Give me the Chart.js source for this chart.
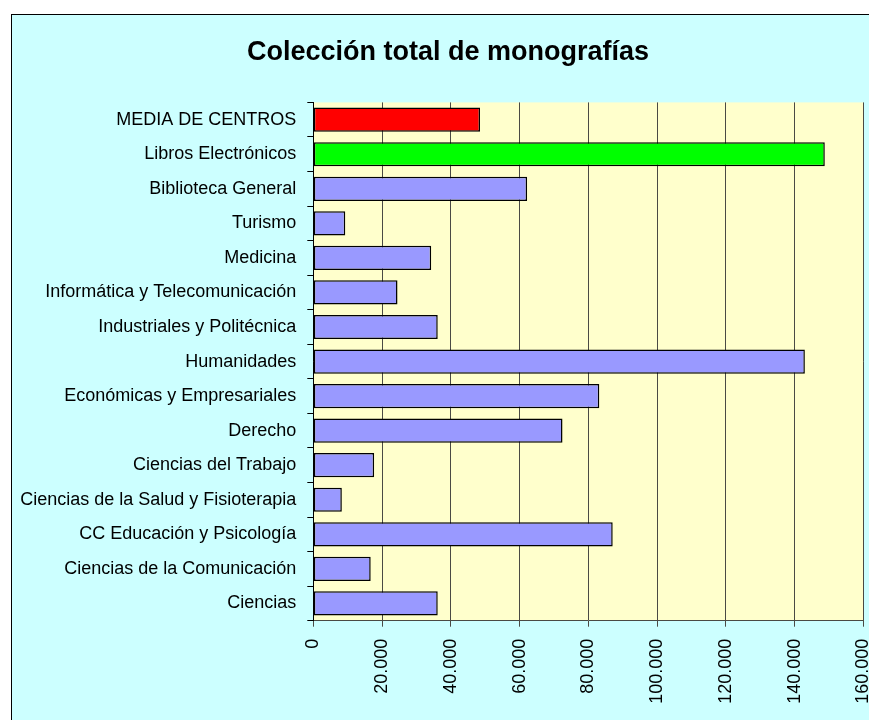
<!DOCTYPE html>
<html>
<head>
<meta charset="utf-8">
<script src="https://cdn.jsdelivr.net/npm/chart.js@4/dist/chart.umd.min.js"></script>
<style>
  html, body { margin: 0; padding: 0; background: #fff; overflow: hidden; }
  #wrap { width: 869px; height: 720px; overflow: hidden; }
</style>
</head>
<body>
<div id="wrap"><canvas id="chart" width="896" height="720"></canvas></div>
<script>
// DATA
const centros = [
  "MEDIA DE CENTROS",
  "Libros Electrónicos",
  "Biblioteca General",
  "Turismo",
  "Medicina",
  "Informática y Telecomunicación",
  "Industriales y Politécnica",
  "Humanidades",
  "Económicas y Empresariales",
  "Derecho",
  "Ciencias del Trabajo",
  "Ciencias de la Salud y Fisioterapia",
  "CC Educación y Psicología",
  "Ciencias de la Comunicación",
  "Ciencias"
];
const monografias = [48500, 148800, 62200, 9300, 34300, 24500, 36200, 143000, 83200, 72500, 17700, 8300, 87100, 16700, 36200];
const barColors = ["#FF0000", "#00FF00", "#9999FF", "#9999FF", "#9999FF", "#9999FF", "#9999FF", "#9999FF", "#9999FF", "#9999FF", "#9999FF", "#9999FF", "#9999FF", "#9999FF", "#9999FF"];
const xMax = 160000;
const xStep = 20000;

const FONT = "'Liberation Sans', Arial, sans-serif";

// miles con punto
function fmt(v) {
  return String(v).replace(/\B(?=(\d{3})+(?!\d))/g, ".");
}

// fondo cian, marco negro y zona de trazado amarilla
const background = {
  id: "background",
  beforeDraw(chart) {
    const c = chart.ctx;
    const a = chart.chartArea;
    c.save();
    c.fillStyle = "#fff";
    c.fillRect(0, 0, chart.width, chart.height);
    c.fillStyle = "#CCFFFF";
    c.fillRect(11, 14, chart.width + 10, chart.height + 10);
    c.strokeStyle = "#000";
    c.lineWidth = 1;
    c.strokeRect(11.5, 14.5, chart.width + 10, chart.height + 10);
    c.fillStyle = "#FFFFCC";
    c.fillRect(a.left, a.top, a.right - a.left, a.bottom - a.top);
    c.restore();
  }
};

const ctx = document.getElementById("chart").getContext("2d");
const chart = new Chart(ctx, {
  type: "bar",
  data: {
    labels: centros,
    datasets: [{
      data: monografias,
      backgroundColor: barColors,
      borderColor: "#000",
      borderWidth: 1.5,
      borderSkipped: false,
      categoryPercentage: 1,
      barPercentage: 0.7
    }]
  },
  options: {
    indexAxis: "y",
    responsive: false,
    animation: false,
    layout: { padding: 0 },
    plugins: {
      legend: { display: false },
      tooltip: { enabled: false },
      title: {
        display: true,
        text: "Colección total de monografías",
        color: "#000",
        font: { family: FONT, size: 27, weight: "bold" },
        padding: { top: 36, bottom: 34 }
      }
    },
    scales: {
      x: {
        min: 0,
        max: xMax,
        ticks: {
          stepSize: xStep,
          minRotation: 90,
          maxRotation: 90,
          padding: 12,
          color: "#000",
          font: { family: FONT, size: 18 },
          callback: (v) => fmt(v)
        },
        grid: { color: "#4a4a44", lineWidth: 1, tickLength: 6 },
        border: { color: "#4a4a44" },
        afterFit: (s) => {
          s.height = 99.3;
          s.paddingLeft = 0;
          s.paddingRight = 32.7;
        }
      },
      y: {
        ticks: {
          padding: 11,
          color: "#000",
          font: { family: FONT, size: 18 },
          autoSkip: false
        },
        grid: { drawOnChartArea: false, drawTicks: true, tickLength: 6, color: "#000" },
        border: { color: "#000" },
        afterFit: (s) => { s.width = 313.3; }
      }
    }
  },
  plugins: [background]
});
</script>
</body>
</html>
